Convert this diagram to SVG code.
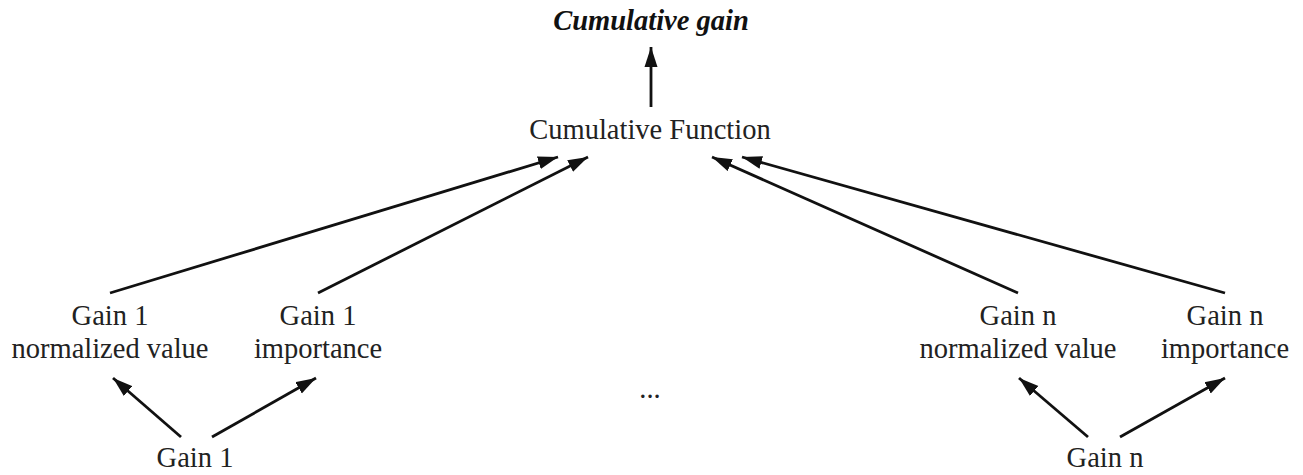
<svg xmlns="http://www.w3.org/2000/svg" width="1303" height="475" viewBox="0 0 1303 475">
<defs>
<marker id="ah" markerUnits="userSpaceOnUse" markerWidth="21" markerHeight="14" refX="20" refY="6.5" orient="auto" viewBox="0 0 21 13">
<path d="M0,0 L20,6.5 L0,13 Z" fill="#111"/>
</marker>
<style>
text{font-family:'Liberation Serif','DejaVu Serif',serif;font-size:28.5px;fill:#222;text-anchor:middle}
.title{font-weight:bold;font-style:italic;fill:#111}
.c{stroke:#111;stroke-width:2.8;fill:none;marker-end:url(#ah)}
</style>
</defs>
<rect width="1303" height="475" fill="#fff"/>
<g id="cumulative-gain"><text class="title" x="651" y="30">Cumulative gain</text></g>
<g id="cumulative-function"><text x="650" y="139">Cumulative Function</text></g>
<g id="gain1-value"><text x="110" y="325">Gain 1</text><text x="110" y="358">normalized value</text></g>
<g id="gain1-importance"><text x="318" y="325">Gain 1</text><text x="318" y="358">importance</text></g>
<g id="gainn-value"><text x="1018" y="325">Gain n</text><text x="1018" y="358">normalized value</text></g>
<g id="gainn-importance"><text x="1225" y="325">Gain n</text><text x="1225" y="358">importance</text></g>
<g id="gain1"><text x="195" y="467">Gain 1</text></g>
<g id="gainn"><text x="1105" y="467">Gain n</text></g>
<g id="ellipsis"><text x="650" y="398">...</text></g>
<g id="connectors">
<line class="c" x1="651" y1="107" x2="651" y2="47"/>
<line class="c" x1="110" y1="293" x2="558" y2="157"/>
<line class="c" x1="318" y1="293" x2="588" y2="157"/>
<line class="c" x1="1018" y1="293" x2="712" y2="157"/>
<line class="c" x1="1225" y1="293" x2="742" y2="157"/>
<line class="c" x1="181" y1="437" x2="113" y2="378"/>
<line class="c" x1="212" y1="437" x2="316" y2="378"/>
<line class="c" x1="1088" y1="437" x2="1019" y2="378"/>
<line class="c" x1="1120" y1="437" x2="1225" y2="378"/>
</g>
</svg>
